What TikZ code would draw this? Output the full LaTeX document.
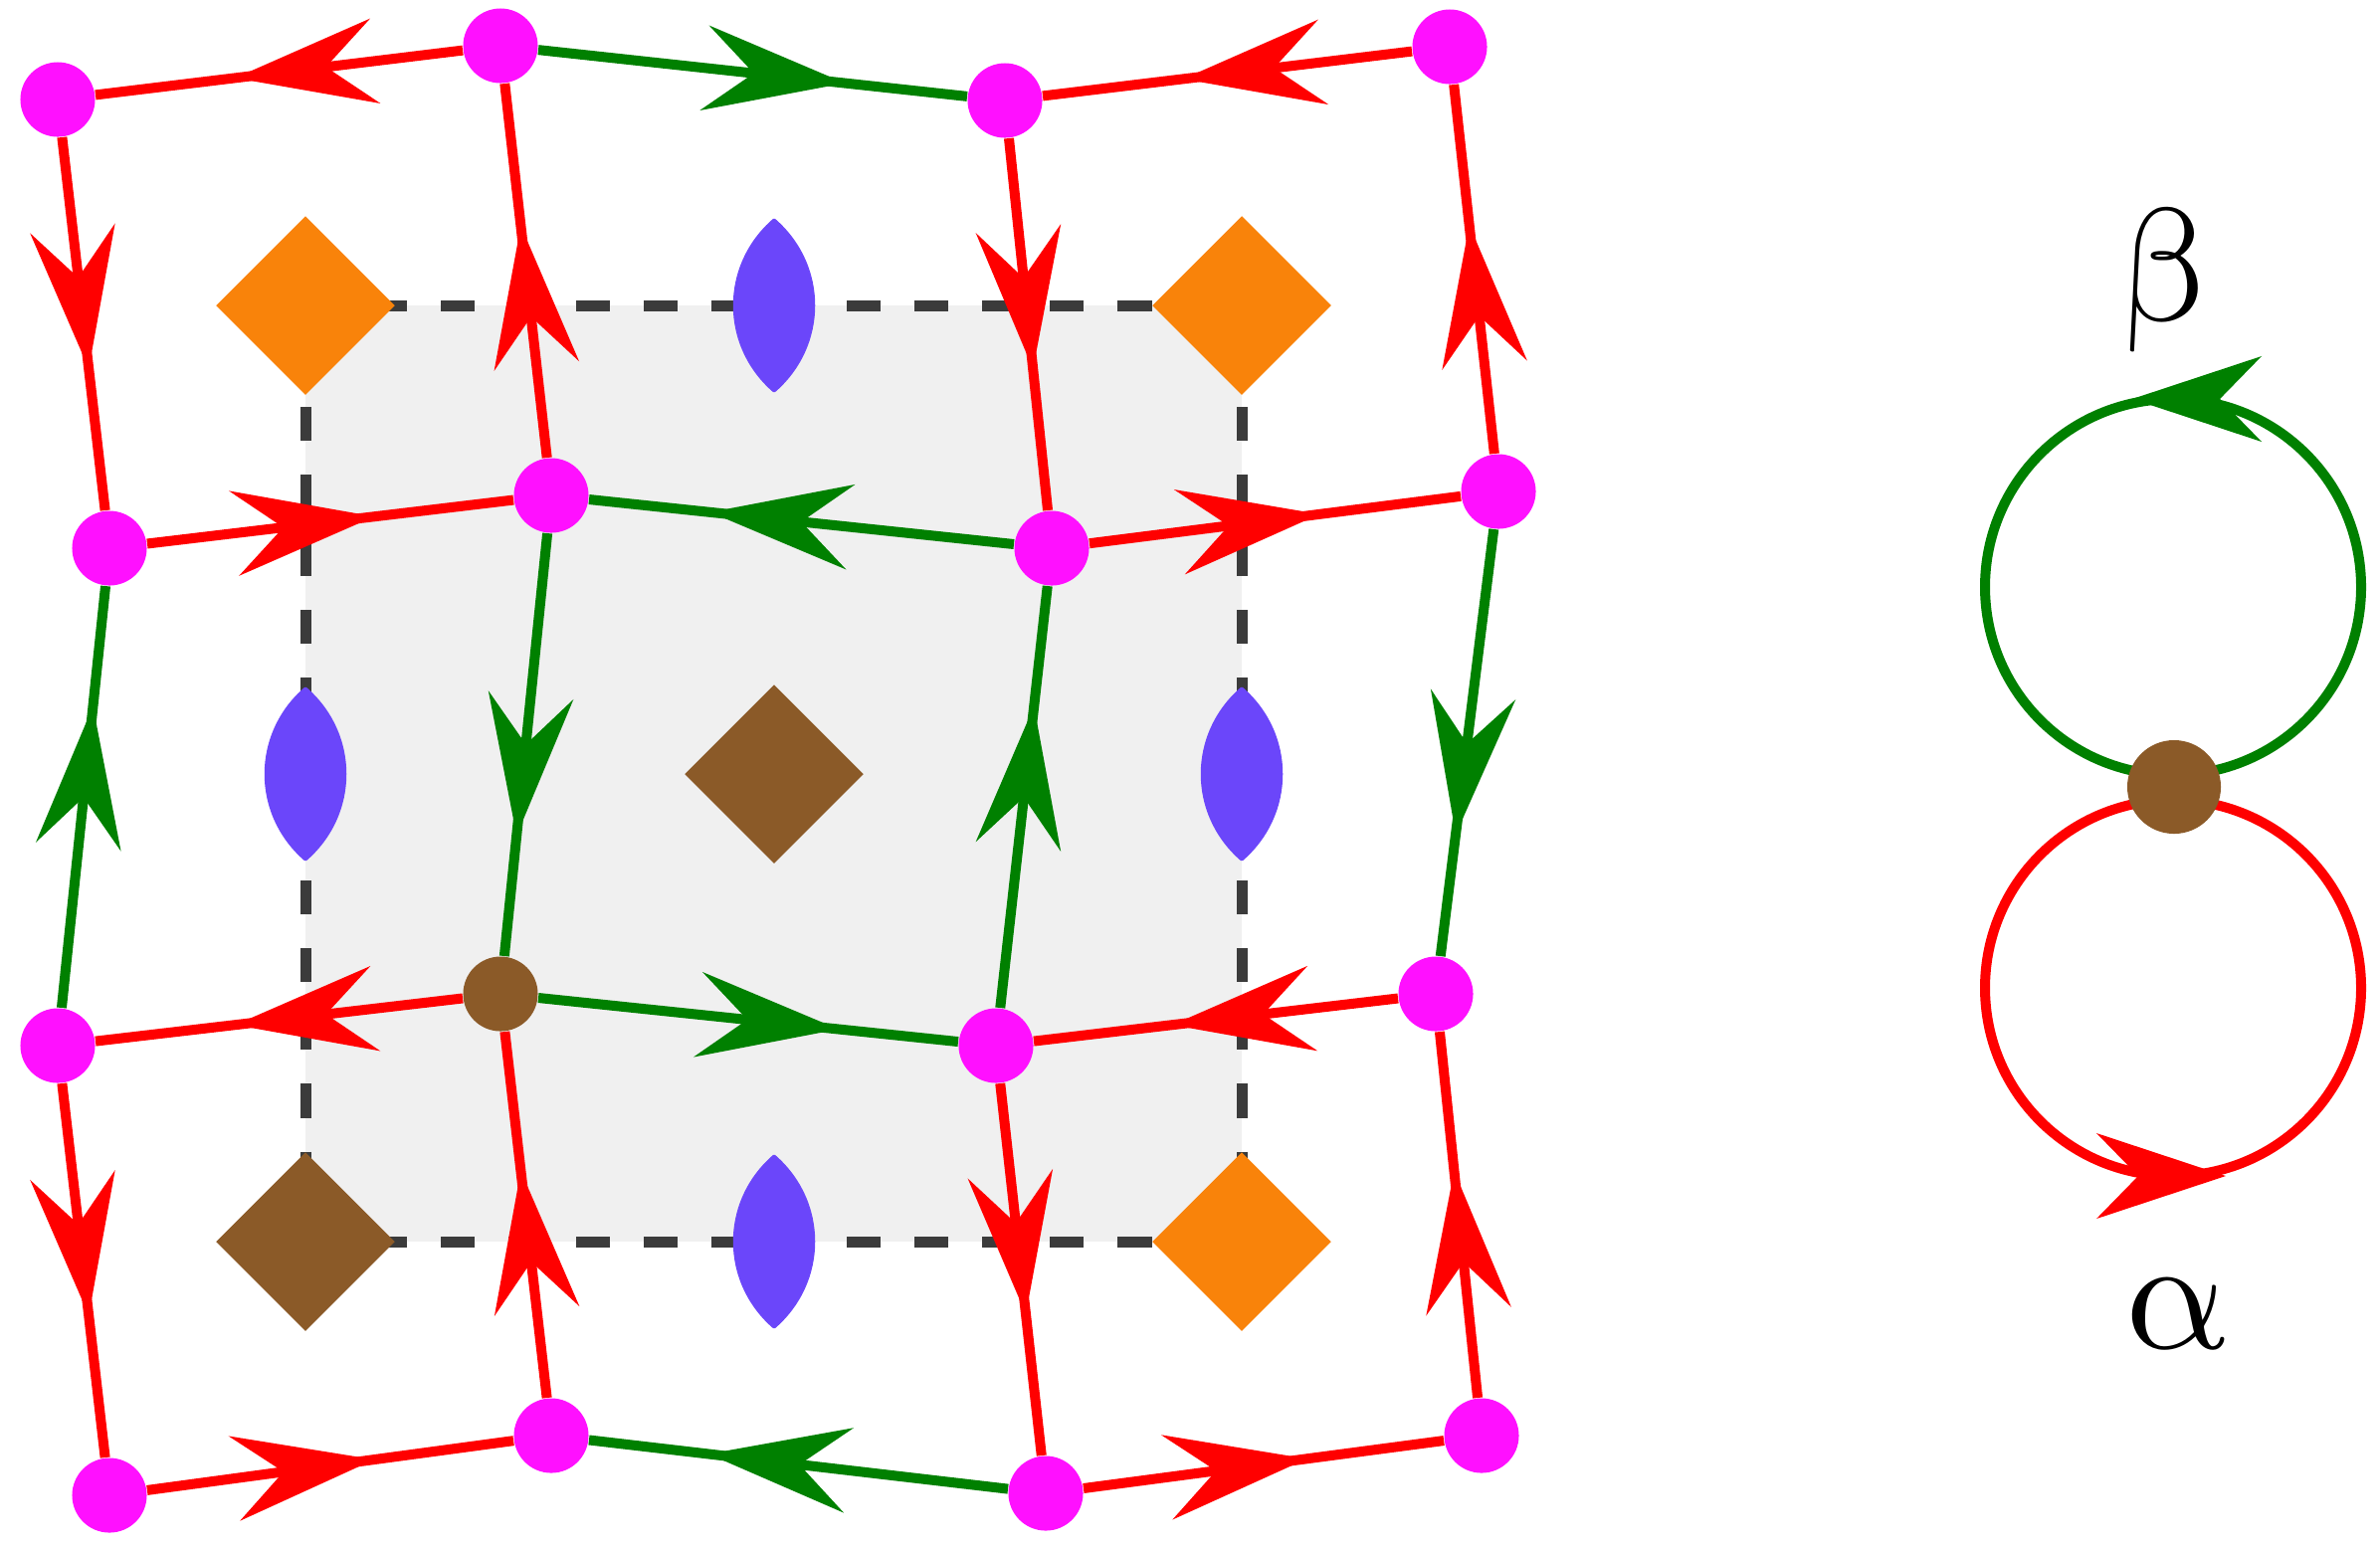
\documentclass[tikz,border=0pt]{standalone}
\usepackage{fontspec}
\usetikzlibrary{arrows.meta,decorations.markings,shapes.geometric}

\definecolor{edgered}{HTML}{FF0000}
\definecolor{edgegreen}{HTML}{008000}
\definecolor{sitemag}{HTML}{FF10FF}
\definecolor{dorange}{HTML}{F9830A}
\definecolor{dbrown}{HTML}{8B5A28}
\definecolor{lensblue}{HTML}{6B46FA}
\definecolor{cellgray}{HTML}{3B3B3B}
\definecolor{cellfill}{HTML}{F0F0F0}

\tikzset{
  bigtip/.tip={Stealth[length=1.42cm,width=0.86cm,inset=0.5cm,line width=0pt]},
  looptip/.tip={Stealth[length=1.3cm,width=0.86cm,inset=0.42cm,line width=0pt]},
  site/.style={circle, fill=sitemag, inner sep=0pt, minimum size=0.75cm},
  hubsite/.style={circle, fill=dbrown, inner sep=0pt, minimum size=0.94cm},
  rlink/.style={edgered, line width=0.1cm, postaction={decorate},
    decoration={markings, mark=at position 0.62 with {\arrow{bigtip}}}},
  glink/.style={edgegreen, line width=0.1cm, postaction={decorate},
    decoration={markings, mark=at position 0.715 with {\arrow{bigtip}}}},
  cellline/.style={cellgray, line width=0.11cm, dash pattern=on 0.34cm off 0.34cm},
  dia/.style={diamond, inner sep=0pt, minimum size=1.8cm},
  lens/.style={fill=lensblue, draw=lensblue, line width=0.03cm, line join=round},
  greek/.style={inner sep=0pt, anchor=base, scale=4.6, xslant=-0.2}
}

\begin{document}
\begin{tikzpicture}[x=0.01cm, y=-0.01cm]
  \useasboundingbox (0,0) rectangle (2392,1556);

  % unit cell
  \coordinate (cTL) at (307,307);
  \coordinate (cTR) at (1248,307);
  \coordinate (cBL) at (307,1248);
  \coordinate (cBR) at (1248,1248);
  \fill[cellfill] (cTL) rectangle (cBR);
  \draw[cellline] (cTL) -- (cTR);
  \draw[cellline] (cBL) -- (cBR);
  \draw[cellline, dash phase=0.34cm] (cTL) -- (cBL);
  \draw[cellline, dash phase=0.34cm] (cTR) -- (cBR);

  % lenses on the cell edges
  \foreach \x/\y in {778/307, 307/778, 1248/778, 778/1248}
    \filldraw[lens] (\x,{\y-86}) .. controls ({\x+53},{\y-40}) and ({\x+53},{\y+40}) .. (\x,{\y+86})
      .. controls ({\x-53},{\y+40}) and ({\x-53},{\y-40}) .. cycle;

  % diamonds
  \node[dia, fill=dorange] (dTL) at (307,307) {};
  \node[dia, fill=dorange] (dTR) at (1248,307) {};
  \node[dia, fill=dorange] (dBR) at (1248,1248) {};
  \node[dia, fill=dbrown] (dBL) at (307,1248) {};
  \node[dia, fill=dbrown] (dC) at (778,778) {};

  % sites
  \node[site] (v11) at (58,100) {};
  \node[site] (v12) at (503,46) {};
  \node[site] (v13) at (1010,101) {};
  \node[site] (v14) at (1457,47) {};
  \node[site] (v21) at (110,551) {};
  \node[site] (v22) at (554,498) {};
  \node[site] (v23) at (1057,551) {};
  \node[site] (v24) at (1506,494) {};
  \node[site] (v31) at (58,1051) {};
  \node[hubsite, minimum size=0.75cm] (v32) at (503,999) {};
  \node[site] (v33) at (1001,1051) {};
  \node[site] (v34) at (1443,999) {};
  \node[site] (v41) at (110,1503) {};
  \node[site] (v42) at (554,1443) {};
  \node[site] (v43) at (1051,1501) {};
  \node[site] (v44) at (1489,1443) {};

  % horizontal links
  \draw[rlink] (v12) -- (v11);
  \draw[glink] (v12) -- (v13);
  \draw[rlink] (v14) -- (v13);
  \draw[rlink] (v21) -- (v22);
  \draw[glink] (v23) -- (v22);
  \draw[rlink] (v23) -- (v24);
  \draw[rlink] (v32) -- (v31);
  \draw[glink] (v32) -- (v33);
  \draw[rlink] (v34) -- (v33);
  \draw[rlink] (v41) -- (v42);
  \draw[glink] (v43) -- (v42);
  \draw[rlink] (v43) -- (v44);

  % vertical links
  \draw[rlink] (v11) -- (v21);
  \draw[glink] (v31) -- (v21);
  \draw[rlink] (v31) -- (v41);
  \draw[rlink] (v22) -- (v12);
  \draw[glink] (v22) -- (v32);
  \draw[rlink] (v42) -- (v32);
  \draw[rlink] (v13) -- (v23);
  \draw[glink] (v33) -- (v23);
  \draw[rlink] (v33) -- (v43);
  \draw[rlink] (v24) -- (v14);
  \draw[glink] (v24) -- (v34);
  \draw[rlink] (v44) -- (v34);

  % figure eight
  \coordinate (gstart) at (2184,779);
  \coordinate (rstart) at (2184,804);
  \draw[edgegreen, line width=0.1cm, postaction={decorate},
    decoration={markings, mark=at position 0.5 with {\pgftransformxshift{0.41cm}\arrow{looptip}}}]
    (gstart) arc[start angle=90, end angle=-270, radius=189];
  \draw[edgered, line width=0.1cm, postaction={decorate},
    decoration={markings, mark=at position 0.5 with {\pgftransformxshift{0.53cm}\arrow{looptip}}}]
    (rstart) arc[start angle=-90, end angle=-450, radius=189];
  \node[hubsite] (hub) at (2185,791) {};

  \node[greek] (betalabel) at (2180,322) {$\beta$};
  \node[greek] (alphalabel) at (2194,1355) {$\alpha$};
\end{tikzpicture}
\end{document}
